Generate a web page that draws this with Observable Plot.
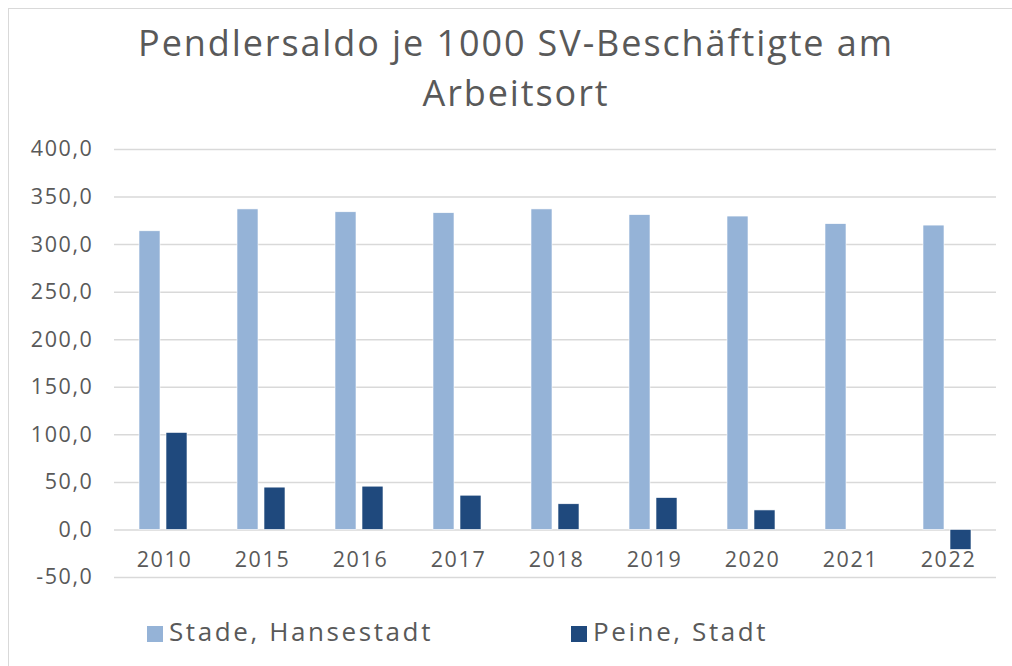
<!DOCTYPE html>
<html>
<head>
<meta charset="utf-8">
<script src="https://cdn.jsdelivr.net/npm/d3@7"></script>
<script src="https://cdn.jsdelivr.net/npm/@observablehq/plot@0.6"></script>
<style>
  html, body { margin: 0; padding: 0; background: #fff; overflow: hidden; width: 1012px; height: 666px; }
  body { position: relative; font-family: "Open Sans", "Noto Sans", sans-serif; color: #595959; }
  #frame { position: absolute; left: 8px; top: 8px; width: 1100px; height: 720px; border: 1.5px solid #d9d9d9; box-sizing: border-box; }
  .title { position: absolute; left: 116px; width: 800px; text-align: center; font-size: 36px; line-height: 43px; height: 43px; color: #595959; letter-spacing: 1.9px; white-space: nowrap; }
  #chart { position: absolute; left: 0; top: 130px; }
  #chart svg text { letter-spacing: 1.6px; }
  .leg { position: absolute; top: 611px; font-size: 26px; line-height: 40px; color: #595959; white-space: nowrap; letter-spacing: 2.6px; }
  .sw { display: inline-block; width: 16px; height: 16px; margin-right: 6px; vertical-align: -1px; }
</style>
</head>
<body>
<div id="frame"></div>
<div class="title" style="top:21px">Pendlersaldo je 1000 SV-Beschäftigte am</div>
<div class="title" style="top:71px">Arbeitsort</div>
<div id="chart"></div>
<div class="leg" id="leg1" style="left:147px"></div>
<div class="leg" id="leg2" style="left:571px"></div>
<script>
const years = ["2010", "2015", "2016", "2017", "2018", "2019", "2020", "2021", "2022"];
const seriesNames = ["Stade, Hansestadt", "Peine, Stadt"];
const stadeValues = [314, 337, 334, 333, 337, 331, 329.5, 321.5, 320];
const peineValues = [102, 44.5, 45.5, 36, 27, 33.5, 20.5, 0, -21];
const yTicks = [-50, 0, 50, 100, 150, 200, 250, 300, 350, 400];
const colors = ["#95b3d7", "#1f497d"];

const data = [];
years.forEach((y, i) => {
  data.push({year: y, series: seriesNames[0], value: stadeValues[i]});
  data.push({year: y, series: seriesNames[1], value: peineValues[i]});
});

const fmt = d => d.toFixed(1).replace(".", ",");

const chart = Plot.plot({
  width: 1012,
  height: 470,
  marginLeft: 113,
  marginRight: 16,
  marginTop: 19,
  marginBottom: 23,
  style: { fontFamily: '"Open Sans", "Noto Sans", sans-serif', color: "#595959", background: "transparent" },
  fx: { domain: years, padding: 0, axis: null },
  x: { domain: seriesNames, paddingInner: 0.21, paddingOuter: 0.86, axis: null },
  y: { domain: [-50, 400], ticks: yTicks, tickFormat: fmt, label: null },
  color: { domain: seriesNames, range: colors },
  marks: [
    Plot.gridY(yTicks, { stroke: "#d9d9d9", strokeOpacity: 1, strokeWidth: 1.5 }),
    Plot.axisY(yTicks, { tickSize: 0, tickPadding: 21, fontSize: 21.5, fill: "#595959", label: null, tickFormat: fmt }),
    Plot.barY(data, { fx: "year", x: "series", y: "value", fill: "series", stroke: "white", strokeWidth: 0.6, inset: 0 }),
    Plot.text(years, { fx: d => d, y: () => 0, text: d => d, dy: 30, dx: 1, fontSize: 21.5, fill: "#595959", frameAnchor: "middle" })
  ]
});
document.getElementById("chart").appendChild(chart);

[ "leg1", "leg2" ].forEach((id, i) => {
  const el = document.getElementById(id);
  const sw = document.createElement("span");
  sw.className = "sw";
  sw.style.background = colors[i];
  el.appendChild(sw);
  el.appendChild(document.createTextNode(seriesNames[i]));
});
</script>
</body>
</html>
